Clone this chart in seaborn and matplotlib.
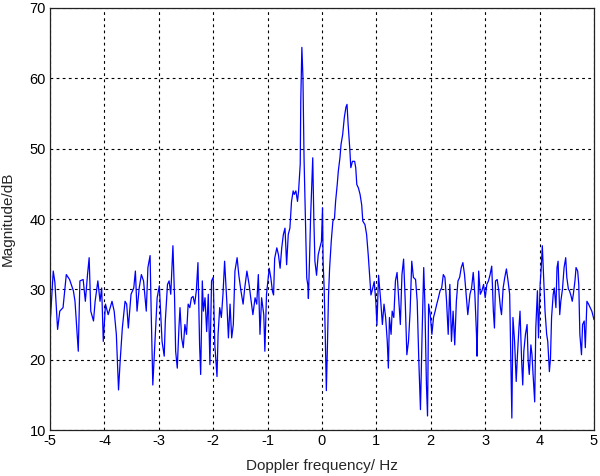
import numpy as np
import matplotlib
matplotlib.use("Agg")
import matplotlib.pyplot as plt
import seaborn as sns

# Doppler spectrum, values
freq_hz = [
    -4.99, -4.94, -4.91, -4.86, -4.82, -4.76, -4.70, -4.64, -4.57, -4.54,
    -4.48, -4.45, -4.39, -4.35, -4.31, -4.28, -4.25, -4.20, -4.17, -4.12,
    -4.08, -4.05, -4.02, -3.98, -3.93, -3.86, -3.82, -3.78, -3.74, -3.71,
    -3.67, -3.62, -3.59, -3.56, -3.51, -3.46, -3.43, -3.40, -3.36, -3.32,
    -3.28, -3.23, -3.20, -3.16, -3.14, -3.11, -3.07, -3.03, -2.99,
    -2.94, -2.90, -2.88, -2.84, -2.81, -2.78, -2.75, -2.74, -2.71, -2.69,
    -2.66, -2.63, -2.61, -2.58, -2.55, -2.52, -2.49, -2.46, -2.43, -2.40,
    -2.37, -2.34, -2.31, -2.28, -2.25, -2.23, -2.20, -2.18, -2.15, -2.12,
    -2.09, -2.06, -2.03, -2.00, -1.97, -1.93, -1.91, -1.88, -1.85, -1.82,
    -1.79, -1.75, -1.72, -1.69, -1.66, -1.63, -1.60, -1.56, -1.53, -1.49,
    -1.45, -1.42, -1.38, -1.34, -1.31, -1.27, -1.23, -1.20, -1.17, -1.14,
    -1.11, -1.07, -1.05, -1.02,
    -0.97, -0.94, -0.91, -0.89, -0.87, -0.83, -0.80, -0.77, -0.74, -0.71,
    -0.68, -0.65, -0.62, -0.59, -0.56, -0.53, -0.51, -0.48, -0.45, -0.43,
    -0.40, -0.39, -0.37, -0.35, -0.33, -0.31, -0.28, -0.26, -0.25, -0.23,
    -0.21, -0.19, -0.17, -0.15, -0.13, -0.10, -0.07, -0.04, -0.01, 0.01,
    0.02, 0.04, 0.06, 0.08, 0.10, 0.12, 0.14, 0.17, 0.20, 0.23,
    0.25, 0.28, 0.30, 0.33, 0.35, 0.38, 0.41, 0.44, 0.46, 0.48,
    0.51, 0.53, 0.56, 0.60, 0.62, 0.64, 0.67, 0.70, 0.73, 0.75,
    0.79, 0.82, 0.85, 0.88, 0.90, 0.93, 0.96, 0.99, 1.01, 1.04,
    1.08, 1.11, 1.14, 1.17, 1.20, 1.22, 1.24, 1.27, 1.29, 1.32,
    1.35, 1.38, 1.41, 1.44, 1.47, 1.50, 1.53, 1.56, 1.59, 1.62,
    1.65, 1.68, 1.72, 1.75, 1.78, 1.81, 1.84, 1.87, 1.89, 1.92,
    1.94, 1.96, 1.99, 2.02, 2.05, 2.08, 2.11, 2.14, 2.17, 2.20,
    2.23, 2.26, 2.29, 2.32, 2.35, 2.38, 2.41, 2.44, 2.47, 2.50,
    2.53, 2.56, 2.59, 2.62, 2.65, 2.68, 2.72, 2.75, 2.78, 2.81,
    2.84, 2.85, 2.88, 2.91, 2.94, 2.97, 3.00, 3.03,
    3.06, 3.09, 3.12, 3.15, 3.17, 3.19, 3.22, 3.25, 3.28, 3.30,
    3.33, 3.36, 3.39, 3.42, 3.45, 3.47, 3.49, 3.51, 3.54, 3.57,
    3.59, 3.62, 3.64, 3.67, 3.69, 3.71, 3.74, 3.77, 3.79, 3.81,
    3.84, 3.86, 3.88, 3.91, 3.93, 3.96, 3.98, 4.01, 4.03, 4.05,
    4.08, 4.10, 4.13, 4.15, 4.18, 4.20, 4.22, 4.25, 4.27, 4.30,
    4.32, 4.34, 4.37, 4.39, 4.42, 4.45, 4.48, 4.50, 4.53, 4.55,
    4.58, 4.60, 4.62, 4.65, 4.67, 4.70, 4.72, 4.74, 4.77, 4.79,
    4.82, 4.84, 4.87, 4.90, 4.93, 4.96, 5.00,
]

magnitude_db = [
    26.0, 32.6, 31.0, 24.3, 26.9, 27.4, 32.1, 31.4, 29.8, 28.3,
    21.2, 31.2, 31.4, 28.3, 32.1, 34.5, 26.9, 25.5, 28.3, 31.2,
    28.3, 30.2, 22.6, 27.9, 26.4, 28.3, 26.9, 23.6, 15.7, 19.8,
    24.5, 28.3, 27.9, 24.5, 29.3, 30.2, 32.6, 26.9, 30.2, 32.1,
    31.2, 26.9, 33.1, 34.8, 26.9, 16.4, 22.6, 28.8, 30.5,
    22.6, 20.5, 25.5, 30.7, 31.2, 29.3, 34.3, 36.2, 28.8, 21.2,
    18.8, 24.5, 27.4, 23.1, 21.7, 25.0, 23.6, 27.9, 27.4, 28.8,
    29.0, 27.9, 29.8, 33.8, 22.1, 17.9, 31.2, 26.9, 28.8, 24.0,
    29.3, 19.3, 31.2, 31.7, 22.1, 17.6, 23.6, 27.4, 26.0, 29.3,
    34.0, 28.3, 23.1, 27.9, 23.1, 25.0, 32.6, 34.5, 32.1, 29.8,
    27.9, 30.2, 32.6, 30.7, 28.8, 26.4, 28.8, 27.9, 32.1, 23.6,
    28.8, 26.4, 21.2, 29.3,
    33.0, 31.6, 29.7, 29.2, 34.4, 35.9, 34.9, 33.0, 35.9, 37.8,
    38.7, 33.5, 37.8, 38.7, 42.5, 44.0, 43.5, 44.0, 42.5, 44.0,
    47.8, 56.8, 64.4, 60.1, 48.7, 41.6, 31.6, 30.6, 28.7, 34.0,
    40.1, 44.4, 48.7, 40.1, 34.0, 32.0, 34.9, 35.9, 36.8, 41.6,
    34.0, 30.1, 23.5, 15.6, 22.0, 29.2, 33.0, 36.8, 39.7, 40.1,
    42.5, 44.9, 46.8, 48.7, 50.6, 52.0, 54.4, 55.9, 56.3, 53.5,
    50.1, 47.3, 48.2, 48.2, 47.3, 44.9, 44.4, 43.5, 42.0, 39.7,
    39.2, 37.8, 34.9, 31.6, 29.2, 30.1, 31.1, 28.2, 24.9, 32.0,
    28.3, 25.0, 27.9, 26.0, 22.6, 18.8, 26.0, 23.6, 26.9, 26.0,
    31.2, 32.4, 28.8, 25.0, 32.1, 34.3, 28.3, 20.7, 22.6, 26.9,
    34.0, 31.7, 31.4, 28.3, 19.8, 12.9, 23.6, 33.1, 28.3, 16.4,
    12.0, 27.9, 26.4, 23.6, 26.0, 26.9, 27.9, 28.8, 29.8, 30.2,
    32.1, 31.7, 28.3, 23.6, 30.7, 22.6, 26.9, 22.1, 28.3, 31.2,
    31.7, 33.1, 33.8, 32.1, 29.3, 26.4, 29.3, 30.2, 32.4, 29.3,
    23.6, 20.5, 32.6, 29.3, 29.8, 30.7, 28.8, 30.7,
    31.2, 32.1, 33.3, 26.9, 24.5, 31.2, 31.4, 29.8, 27.4, 26.4,
    30.2, 31.7, 32.9, 31.2, 29.3, 20.2, 11.7, 26.0, 22.6, 16.9,
    20.2, 24.5, 26.9, 19.8, 16.4, 21.2, 23.6, 25.0, 19.8, 17.9,
    22.1, 20.7, 17.9, 14.0, 24.5, 29.8, 23.1, 30.7, 33.1, 36.2,
    30.7, 26.9, 23.6, 22.6, 18.3, 20.2, 26.0, 29.3, 30.2, 27.4,
    33.1, 34.0, 26.4, 28.3, 30.0, 33.1, 34.5, 31.7, 30.0, 29.8,
    29.0, 28.3, 29.3, 31.2, 33.1, 32.6, 30.7, 23.6, 20.7, 25.0,
    25.5, 21.7, 28.3, 27.9, 27.4, 26.9, 25.7,
]

x_ticks = [-5, -4, -3, -2, -1, 0, 1, 2, 3, 4, 5]
y_ticks = [10, 20, 30, 40, 50, 60, 70]

sns.set_style("white")
plt.rcParams['font.family'] = ['Liberation Sans', 'DejaVu Sans']

fig = plt.figure(figsize=(6.0, 4.76), dpi=100)
ax = fig.add_axes([0.0833, 0.0966, 0.9067, 0.8866])

sns.lineplot(x=freq_hz, y=magnitude_db, color='#0000ff', linewidth=0.9,
             estimator=None, sort=False, ax=ax)

ax.set_xlim(-5, 5)
ax.set_ylim(10, 70)
ax.set_xticks(x_ticks)
ax.set_yticks(y_ticks)
ax.set_xticklabels([str(t) for t in x_ticks])
ax.set_yticklabels([str(t) for t in y_ticks])

ax.grid(True, color='black', linestyle=(0, (2.5, 3.0)), linewidth=0.8)
ax.tick_params(direction='in', length=4, labelsize=10.5, colors='black', pad=3)
for spine in ax.spines.values():
    spine.set_color('#222222')
    spine.set_linewidth(0.9)

ax.set_xlabel('Doppler frequency/ Hz', fontsize=11)
ax.set_ylabel('Magnitude/dB', fontsize=11)
ax.xaxis.set_label_coords(0.5, -0.068)
ax.yaxis.set_label_coords(-0.065, 0.5)

fig.savefig('out.png', dpi=100)
